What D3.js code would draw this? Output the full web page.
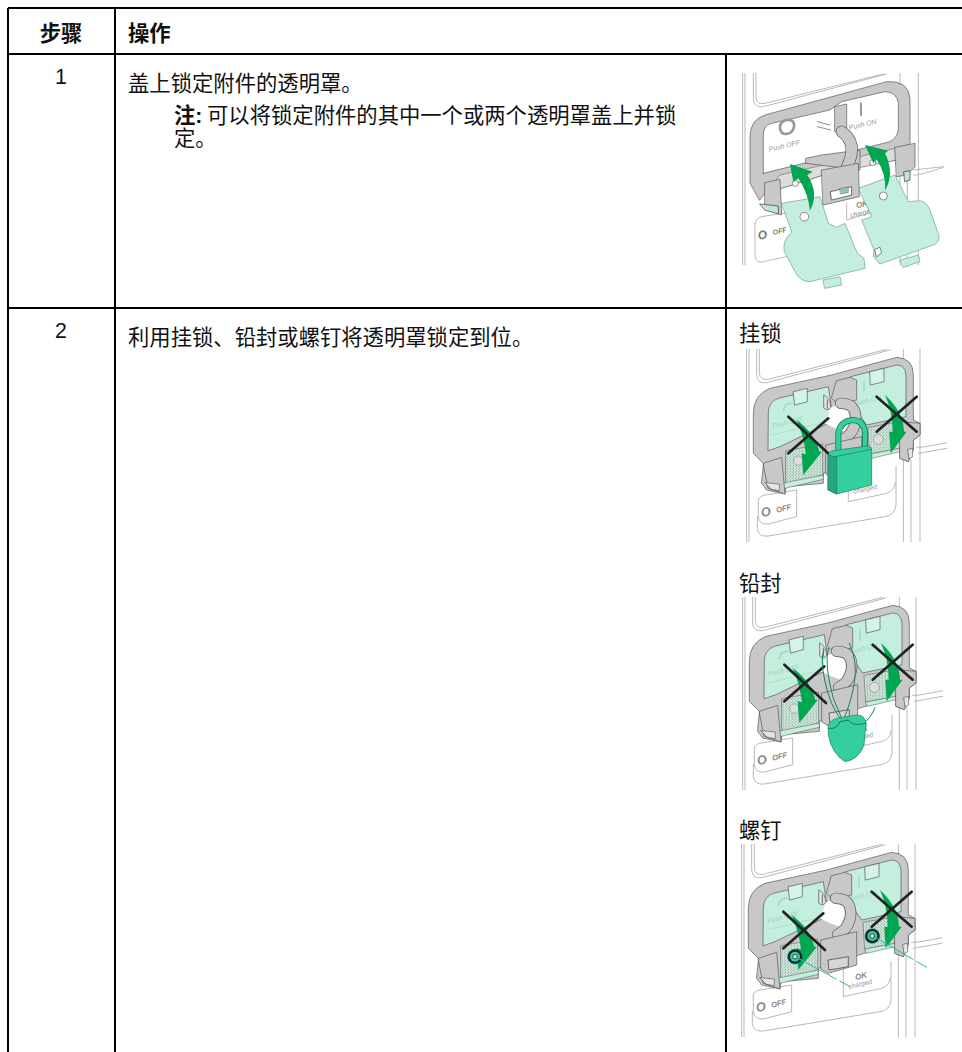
<!DOCTYPE html>
<html>
<head>
<meta charset="utf-8">
<script src="https://cdn.jsdelivr.net/npm/d3@7"></script>
<style>
  html, body { margin: 0; padding: 0; background: #fff; overflow: hidden; }
  text { font-family: "Liberation Sans", "Noto Sans CJK SC", sans-serif; fill: #111; }
</style>
</head>
<body>
<div id="page"></div>
<script>
// Table content
const headers = ["步骤", "操作"];
const stepNumbers = ["1", "2"];
const stepTexts = ["盖上锁定附件的透明罩。", "利用挂锁、铅封或螺钉将透明罩锁定到位。"];
const noteLabel = "注:";
const noteLines = ["可以将锁定附件的其中一个或两个透明罩盖上并锁", "定。"];
const lockLabels = ["挂锁", "铅封", "螺钉"];

const W = 962, H = 1052;
const colX = { left: 8, step: 115, image: 726 };
const rowY = { top: 8, head: 54, split: 308 };
const FONT = 21.33;

const svg = d3.select("#page").append("svg")
    .attr("width", W)
    .attr("height", H)
    .style("display", "block");

// speckled texture under the closed covers
const speckle = svg.append("defs").append("pattern")
    .attr("id", "speckle")
    .attr("width", 9).attr("height", 9)
    .attr("patternUnits", "userSpaceOnUse");
speckle.append("rect").attr("width", 9).attr("height", 9).attr("fill", "#cfe8dc");
speckle.append("circle").attr("cx", 2).attr("cy", 3).attr("r", 1.8).attr("fill", "#6d8f80");
speckle.append("circle").attr("cx", 7).attr("cy", 7).attr("r", 1.6).attr("fill", "#8aa99b");

// Grid lines
const gridLines = [
  [colX.left, rowY.top, W, rowY.top],
  [colX.left, rowY.head, W, rowY.head],
  [colX.left, rowY.split, W, rowY.split],
  [colX.left, rowY.top, colX.left, H],
  [colX.step, rowY.top, colX.step, H],
  [colX.image, rowY.head, colX.image, H]
];
svg.selectAll("line.grid")
    .data(gridLines)
    .enter()
    .append("line")
    .attr("class", "grid")
    .attr("x1", d => d[0]).attr("y1", d => d[1])
    .attr("x2", d => d[2]).attr("y2", d => d[3])
    .attr("stroke", "#000")
    .attr("stroke-width", 2);

// Text helper
function label(x, y, str, opts = {}) {
  return svg.append("text")
      .attr("x", x).attr("y", y)
      .attr("text-anchor", opts.anchor || "start")
      .style("font-size", (opts.size || FONT) + "px")
      .style("font-weight", opts.bold ? "bold" : "normal")
      .text(str);
}

label(61, 41, headers[0], { anchor: "middle", bold: true });
label(128, 41, headers[1], { bold: true });
label(61, 84, stepNumbers[0], { anchor: "middle" });
label(61, 338, stepNumbers[1], { anchor: "middle" });
label(128, 91, stepTexts[0]);
label(128, 345, stepTexts[1]);
label(174, 123, noteLabel, { bold: true });
label(207, 123, noteLines[0]);
label(174, 146, noteLines[1]);
label(739, 341, lockLabels[0]);
label(739, 591, lockLabels[1]);
label(739, 838, lockLabels[2]);

// Illustration helpers, coordinates are in 3x units of the small pictures
const GREY = "#c8c8c8", DARK = "#555", LINE = "#aaa", COVER = "#c4eedd", ARROW = "#00a651", TEAL = "#35cf9f";

function shape(g, d, fill, stroke, sw) {
  return g.append("path")
      .attr("d", d)
      .attr("fill", fill || "none")
      .attr("stroke", stroke || "none")
      .attr("stroke-width", sw || 0)
      .attr("stroke-linejoin", "round")
      .attr("stroke-linecap", "round");
}

function tilted(g, x, y, str, size, fill, weight) {
  g.append("text")
      .attr("transform", `translate(${x},${y}) rotate(-13)`)
      .style("font-size", size + "px")
      .style("font-style", "italic")
      .style("font-weight", weight || "normal")
      .style("fill", fill)
      .text(str);
}

// The breaker and frame with both covers shut, drawn in the padlock picture's units
function closedBase(g) {
  [
    "M140 88V665", "M147 88V665", "M610 88V665", "M660 88V665", "M633 420V665",
    "M170 88V165Q172 192 200 188L570 90",
    "M178 88V160Q180 182 205 178L560 88",
    "M172 590V625Q175 652 205 648L555 590Q585 585 588 555V440",
    "M175 540V590Q178 615 205 612L290 590V510L195 525Q178 528 175 540",
    "M445 430V545L560 520Q585 510 585 490",
    "M650 382Q660 385 740 368", "M655 400L740 385"
  ].forEach(d => shape(g, d, null, LINE, 2.5));

  tilted(g, 186, 592, "O", 38, "#888", "bold");
  tilted(g, 230, 578, "OFF", 23, "#888", "bold");
  tilted(g, 482, 495, "OK", 24, "#888", "bold");
  tilted(g, 462, 522, "charged", 20, "#999");

  // outer frame
  shape(g, "M190 430L160 400V280Q160 225 210 205L395 165L590 112Q640 115 640 165V300L660 310V345L640 360V385L625 425L600 415V385L370 460V490L258 500L255 522L200 510L185 490Z",
      GREY, DARK, 2);

  // windows with the shut covers
  shape(g, "M205 275Q207 245 235 235L385 200L395 265L405 300L240 380L205 392Z", COVER, DARK, 2);
  shape(g, "M452 170L590 135Q615 135 618 165V290L500 315L455 250Z", COVER, DARK, 2);

  // faded labels seen through the covers
  shape(g, "M250 270Q255 250 275 250", null, "#a9d8c4", 6);
  shape(g, "M215 345L385 305", null, "#a9d8c4", 2);
  tilted(g, 218, 325, "Push OFF", 21, "#a5d4c0");
  tilted(g, 462, 258, "Push ON", 21, "#a5d4c0");
  shape(g, "M492 185V215", null, "#a9d8c4", 5);

  // speckled plates
  shape(g, "M258 392L368 372V465L258 495Z", "url(#speckle)", DARK, 1.5);
  shape(g, "M505 322L600 305V385L510 402Z", "url(#speckle)", DARK, 1.5);
  shape(g, "M245 490L370 465V478L255 505Z", COVER, DARK, 1.5);
  shape(g, "M510 402L600 385V395L515 415Z", COVER, DARK, 1.5);

  // cover tabs
  shape(g, "M280 215L322 205V245L285 255Z", "#d5f3e7", DARK, 2);
  shape(g, "M510 155L552 145V185L512 195Z", "#d5f3e7", DARK, 2);

  // end clips
  shape(g, "M190 430L245 412L255 522L205 505Z", GREY, DARK, 2);
  shape(g, "M195 488L238 492V512L215 508Z", "#e4e4e4", "#333", 1.5);
  shape(g, "M600 305L660 310V345L640 360V390L625 425L600 415Z", GREY, DARK, 2);
  shape(g, "M624 388L638 385V410L628 417Z", "#e4e4e4", "#333", 1.5);

  // white opening behind the hook, then the hook and the centre block
  shape(g, "M392 262L440 250L450 300L435 335L405 325L375 310L385 285Z", "#fff");
  shape(g, "M372 225Q392 235 392 262Q385 275 372 265Z", "#e0e0e0", DARK, 2);
  shape(g, "M382 240V265", null, "#333", 2);
  shape(g, "M395 235Q410 250 415 252L470 240V180L450 172L410 182Z", GREY, DARK, 2);
  shape(g, "M422 250Q474 250 466 308Q458 345 428 358", null, DARK, 34);
  shape(g, "M422 250Q474 250 466 308Q458 345 428 358", null, GREY, 30);
  shape(g, "M378 375L485 350V450L400 475L378 462Z", GREY, DARK, 2);
  shape(g, "M400 435L460 425V455L403 465Z", "#d5d5d5", "#333", 2);
}

// Bright arrows and crosses sit on top of whatever holds the covers
function crossesAndArrows(g, withHoles) {
  if (withHoles) {
    g.append("circle").attr("cx", 295).attr("cy", 422).attr("r", 14).attr("fill", "#ddd").attr("stroke", DARK);
    g.append("circle").attr("cx", 535).attr("cy", 358).attr("r", 15).attr("fill", "#ddd").attr("stroke", DARK);
  }
  shape(g, "M290 300Q345 340 358 395L366 395L310 465L305 400L318 403Q312 350 290 300Z", ARROW);
  shape(g, "M555 225Q610 275 612 335L620 335L572 400L568 335L578 335Q578 275 555 225Z", ARROW);
  ["M265 290L390 405", "M385 295L265 400", "M530 230L650 335", "M650 230L530 335"]
      .forEach(d => shape(g, d, null, "#222", 8));
}

// Picture 1: covers open
function openPicture(g) {
  [
    "M128 40V615", "M135 40V615", "M600 40V615", "M655 40V615", "M622 330V620",
    "M160 40V120Q165 145 190 140L560 42",
    "M168 40V115Q172 135 195 130L550 42",
    "M165 490V590Q170 612 190 605L260 590",
    "M165 490Q168 475 185 470L280 455V540",
    "M440 430V480L570 440V390",
    "M640 345Q650 350 730 322", "M640 330L730 320"
  ].forEach(d => shape(g, d, null, LINE, 2.5));

  tilted(g, 176, 540, "O", 36, "#777", "bold");
  tilted(g, 220, 525, "OFF", 21, "#777", "bold");
  tilted(g, 470, 445, "OK", 24, "#888", "bold");
  tilted(g, 452, 473, "charged", 20, "#888");

  shape(g, "M178 420L150 370V230Q150 180 195 165L560 65Q625 60 630 115V250L590 300L480 320L370 345L195 400ZM190 340L190 225Q190 195 215 190L390 150L425 125L555 95Q590 95 595 130V210Q590 235 570 245L190 340Z",
      GREY, DARK, 2).attr("fill-rule", "evenodd");

  tilted(g, 208, 275, "Push OFF", 21, "#999");
  tilted(g, 448, 210, "Push ON", 21, "#999");
  shape(g, "M240 205Q238 185 260 180Q285 178 282 200Q278 220 258 222Q242 222 240 205Z", null, "#999", 8);
  shape(g, "M483 130V165", null, "#999", 6);
  shape(g, "M352 185L390 195", null, DARK, 2);
  shape(g, "M352 200L392 210", null, DARK, 2);

  // rail with the open cover stems
  shape(g, "M195 400L240 345L585 265L590 300L370 345Z", "#ddd", DARK, 1.5);
  g.append("circle").attr("cx", 286).attr("cy", 370).attr("r", 9).attr("fill", "#fff").attr("stroke", DARK).attr("stroke-width", 2);
  g.append("circle").attr("cx", 518).attr("cy", 308).attr("r", 9).attr("fill", "#fff").attr("stroke", DARK).attr("stroke-width", 2);

  // left cover
  shape(g, "M245 430L360 410L385 490L410 502L435 490L472 580L492 595L495 625L330 665Q300 665 285 635L253 575Q248 550 262 530L275 518Z",
      COVER, "#6f9f8c", 2);
  shape(g, "M370 660L420 650L425 675L375 685Z", COVER, "#6f9f8c", 2);
  g.append("circle").attr("cx", 313).attr("cy", 470).attr("r", 13).attr("fill", "#fff").attr("stroke", DARK).attr("stroke-width", 2);

  // right cover
  shape(g, "M475 385L585 345L625 425L660 422Q680 425 690 450L718 530Q715 550 700 555L540 612L520 590L522 570L485 480L515 470Z",
      COVER, "#6f9f8c", 2);
  shape(g, "M600 600L655 585L660 605L610 622Z", COVER, "#6f9f8c", 2);
  g.append("circle").attr("cx", 550).attr("cy", 408).attr("r", 12).attr("fill", "#fff").attr("stroke", DARK).attr("stroke-width", 2);
  shape(g, "M525 568L540 562L545 578L530 590Z", "#fff", "#444", 2);

  // end clips
  shape(g, "M195 368L240 358L245 465L195 445Z", GREY, DARK, 2);
  shape(g, "M180 432L235 438V462L195 450Z", "#bfe5d5", "#333", 2);
  shape(g, "M585 262L645 250V320L620 345L590 350Z", GREY, DARK, 2);
  shape(g, "M612 335L630 332V360L615 365Z", "#bfe5d5", "#333", 2);

  // centre block and hook
  shape(g, "M318 295L365 285L480 270V330L318 310Z", GREY, DARK, 2);
  shape(g, "M405 140L440 132V205L405 215Z", GREY, DARK, 2);
  shape(g, "M425 215Q475 250 442 318", null, DARK, 36);
  shape(g, "M425 215Q475 250 442 318", null, GREY, 32);
  shape(g, "M365 330L475 310L478 410L370 435Z", GREY, DARK, 2);
  shape(g, "M392 395L455 380V405L395 420Z", "#fff", "#333", 2);
  shape(g, "M420 385L445 381V398L422 402Z", "#8fc4ae", "#333", 1);

  // arrows
  shape(g, "M330 452Q358 400 322 345L338 335L270 312L280 365L295 355Q325 400 330 452Z", ARROW);
  shape(g, "M555 392Q585 340 555 280L565 272L495 255L520 310L530 298Q560 345 555 392Z", ARROW);
}

function picture(ox, oy) {
  return svg.append("g").attr("transform", `translate(${ox},${oy}) scale(${1 / 3})`);
}

// Open covers
openPicture(picture(700, 60));

// Padlock
const padlock = picture(700, 320);
closedBase(padlock);
crossesAndArrows(padlock, true);
shape(padlock, "M415 395V340Q420 305 455 300Q495 300 495 345V390", null, "#16795b", 18);
shape(padlock, "M415 395V340Q420 305 455 300Q495 300 495 345V390", null, TEAL, 13);
shape(padlock, "M385 405Q385 395 400 392L500 378Q515 378 515 392V495L410 522L385 510Z", TEAL, "#16795b", 2);
shape(padlock, "M385 405L410 412V522L385 510Z", "#24a880", "#16795b", 2);
shape(padlock, "M405 410L515 388", null, "#16795b", 2);

// Lead seal
const sealPic = picture(700, 565);
closedBase(sealPic.append("g").attr("transform", "translate(-12,9)"));
crossesAndArrows(sealPic.append("g").attr("transform", "translate(-12,9)"), true);
["M372 255Q360 280 375 350Q390 420 420 460", "M448 235Q475 290 462 360Q450 420 432 460",
 "M385 250Q372 300 400 400L425 460", "M488 475Q510 465 525 428"]
    .forEach(d => shape(sealPic, d, null, "#17835f", 3));
shape(sealPic, "M385 480Q395 460 420 458L470 450Q495 450 498 475L492 540Q475 585 435 590Q395 565 385 510Z", TEAL, "#16795b", 2);
shape(sealPic, "M385 490Q410 495 420 470L445 465Q455 485 498 475", null, "#16795b", 3);

// Screws
const screwPic = picture(700, 810);
closedBase(screwPic.append("g").attr("transform", "translate(-15,15)"));
crossesAndArrows(screwPic.append("g").attr("transform", "translate(-15,15)"), false);
[[285, 440], [517, 378]].forEach(c => {
  screwPic.append("circle").attr("cx", c[0]).attr("cy", c[1]).attr("r", 22).attr("fill", "#123").attr("stroke", "#16795b").attr("stroke-width", 2);
  screwPic.append("circle").attr("cx", c[0]).attr("cy", c[1]).attr("r", 15).attr("fill", TEAL);
  screwPic.append("circle").attr("cx", c[0]).attr("cy", c[1]).attr("r", 7).attr("fill", "#ddd").attr("stroke", "#111").attr("stroke-width", 2);
});
shape(screwPic, "M295 445L450 530", null, "#2fbd90", 3).attr("stroke-dasharray", "130 12 46");
shape(screwPic, "M527 383L680 472", null, "#2fbd90", 3).attr("stroke-dasharray", "130 12 35");
</script>
</body>
</html>
